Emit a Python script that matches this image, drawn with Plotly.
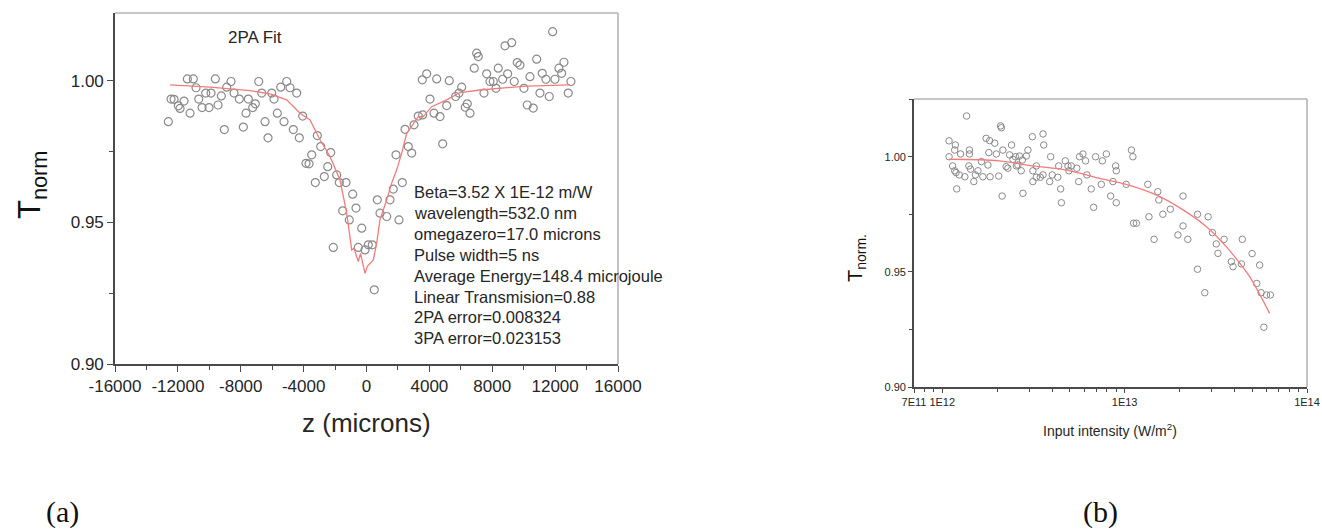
import plotly.graph_objects as go

# ---------------- panel (a): Z-scan ----------------
z_a = [-12606, -12434, -12243, -11970, -11861, -11607, -11397, -11225, -11016, -10844,
       -10672, -10462, -10227, -10017, -9890, -9616, -9445, -9235, -9044, -8891,
       -8618, -8427, -8090, -7836, -7664, -7518, -7238, -7072, -6856, -6665,
       -6455, -6265, -6029, -5883, -5673, -5457, -5247, -5075, -4865, -4656,
       -4439, -4274, -4058, -3848, -3657, -3485, -3256, -3129, -2913, -2684,
       -2468, -2277, -1895, -1730, -1304, -878, -668, -1514, -1094, -305,
       -2112, -522, -95, 114, 369, 496, 687, 859, 1285, 1495,
       1704, 2067, 2277, 1876, 2874, 2658, 2449, 3021, 3294, 3574,
       4039, 3829, 3549, 4465, 4293, 4675, 4846, 5101, 5266, 5673,
       5883, 6055, 6284, 6411, 6583, 6856, 7009, 7110, 7473, 7645,
       7855, 8064, 8236, 8382, 8662, 8809, 9235, 8980, 9400, 9591,
       9763, 10017, 10227, 10399, 10608, 10825, 11035, 11181, 11416, 11626,
       11842, 11989, 12243, 12415, 12561, 12834, 13006]
t_a = [0.9856, 0.9936, 0.9935, 0.9912, 0.9903, 0.9929, 1.0007, 0.9886, 1.0007, 0.9976,
       0.9936, 0.9906, 0.9957, 0.9906, 0.9957, 1.0007, 0.9915, 0.9947, 0.9828, 0.9978,
       0.9998, 0.9957, 0.9936, 0.9837, 0.9886, 0.9936, 0.9906, 0.9919, 0.9998, 0.9957,
       0.9856, 0.9799, 0.9957, 0.9936, 0.9886, 0.9978, 0.9856, 0.9998, 0.9976, 0.9828,
       0.9957, 0.9799, 0.9876, 0.9709, 0.9707, 0.9739, 0.9641, 0.9807, 0.9768, 0.9662,
       0.9697, 0.9747, 0.9668, 0.9641, 0.9641, 0.9600, 0.9551, 0.9541, 0.9509, 0.9480,
       0.9412, 0.9412, 0.9403, 0.9421, 0.9421, 0.9262, 0.9580, 0.9533, 0.9521, 0.9580,
       0.9618, 0.9509, 0.9641, 0.9739, 0.9745, 0.9768, 0.9829, 0.9845, 0.9876, 0.9880,
       0.9936, 1.0025, 1.0004, 1.0007, 0.9886, 0.9874, 0.9778, 0.9913, 1.0001, 0.9945,
       0.9957, 0.9978, 0.9907, 0.9919, 0.9886, 1.0045, 1.0098, 1.0086, 0.9957, 1.0025,
       0.9998, 0.9998, 0.9974, 1.0045, 1.0006, 1.0124, 1.0135, 1.0025, 0.9998, 1.0065,
       1.0056, 0.9974, 0.9915, 1.0015, 0.9904, 1.0077, 0.9957, 1.0027, 1.0006, 0.9945,
       1.0174, 1.0006, 1.0045, 1.0027, 1.0066, 0.9957, 0.9998]

z_fit = [-12500, -9950, -7410, -6137, -5075, -4229, -3593, -2957, -2321, -1685,
         -1259, -941, -800, -521, -380, -95, 50, 433, 650, 859,
         1285, 1602, 1920, 2238, 2557, 3294, 3612, 4146, 5101, 5947,
         7219, 8491, 10189, 12943]
t_fit = [0.9986, 0.9978, 0.9966, 0.9954, 0.9933, 0.9886, 0.9862, 0.9792, 0.9733, 0.9650,
         0.9533, 0.9403, 0.9409, 0.9362, 0.9391, 0.9320, 0.9345, 0.9368, 0.9427, 0.9510,
         0.9580, 0.9639, 0.9686, 0.9745, 0.9815, 0.9874, 0.9874, 0.9909, 0.9933, 0.9959,
         0.9968, 0.9974, 0.9982, 0.9986]

x_ticks_a = [-16000, -12000, -8000, -4000, 0, 4000, 8000, 12000, 16000]
x_ticklabels_a = ["-16000", "-12000", "-8000", "-4000", "0", "4000", "8000", "12000", "16000"]
y_ticks_a = [0.90, 0.95, 1.00]
y_ticklabels = ["0.90", "0.95", "1.00"]

info_lines = ["Beta=3.52 X 1E-12 m/W", "wavelength=532.0 nm", "omegazero=17.0 microns",
              "Pulse width=5 ns", "Average Energy=148.4 microjoule",
              "Linear Transmision=0.88", "2PA error=0.008324", "3PA error=0.023153"]

# ---------------- panel (b): intensity ----------------
i_b = [1.09e12, 1.09e12, 1.18e12, 1.17e12, 1.14e12, 1.17e12, 1.19e12, 1.24e12, 1.26e12, 1.33e12,
       1.36e12, 1.20e12, 1.41e12, 1.41e12, 1.40e12, 1.43e12, 1.49e12, 1.52e12, 1.57e12, 1.64e12,
       1.67e12, 1.74e12, 1.78e12, 1.82e12, 1.80e12, 1.83e12, 1.94e12, 1.98e12, 2.04e12, 2.09e12,
       2.11e12, 2.15e12, 2.13e12, 2.24e12, 2.34e12, 2.40e12, 2.44e12, 2.55e12, 2.65e12, 2.75e12,
       2.71e12, 2.77e12, 2.89e12, 2.95e12, 3.12e12, 3.14e12, 3.14e12, 3.28e12, 2.29e12, 2.52e12,
       2.60e12, 3.28e12, 3.45e12, 3.57e12, 3.60e12, 3.57e12, 3.88e12, 3.93e12, 4.01e12, 4.30e12,
       4.35e12, 4.46e12, 4.50e12, 4.73e12, 4.89e12, 4.95e12, 5.10e12, 5.47e12, 5.60e12, 5.66e12,
       5.91e12, 6.11e12, 6.21e12, 6.56e12, 6.76e12, 6.93e12, 7.55e12, 7.45e12, 7.94e12, 8.38e12,
       8.63e12, 8.93e12, 9.00e12, 9.00e12, 1.02e13, 1.09e13, 1.11e13, 1.12e13, 1.16e13, 1.34e13,
       1.36e13, 1.45e13, 1.52e13, 1.54e13, 1.62e13, 1.78e13, 1.96e13, 2.09e13, 2.09e13, 2.22e13,
       2.51e13, 2.51e13, 2.75e13, 2.87e13, 3.03e13, 3.18e13, 3.25e13, 3.51e13, 3.85e13, 3.93e13,
       4.37e13, 4.42e13, 5.0e13, 5.3e13, 5.6e13, 5.8e13, 6.0e13, 6.3e13, 5.5e13]
t_b = [1.0070, 1.0001, 1.0052, 1.0030, 0.9961, 0.9940, 0.9932, 0.9922, 1.0013, 0.9914,
       1.0178, 0.9861, 1.0030, 1.0013, 0.9961, 0.9947, 0.9893, 0.9922, 0.9940, 0.9980,
       0.9914, 1.0081, 0.9965, 1.0071, 1.0019, 0.9914, 1.0060, 1.0013, 0.9917, 1.0135,
       1.0127, 1.0030, 0.9830, 0.9958, 1.0009, 1.0052, 0.9990, 0.9961, 1.0004, 0.9987,
       0.9940, 0.9842, 1.0004, 1.0030, 1.0088, 0.9940, 0.9893, 0.9912, 0.9951, 1.0001,
       0.9965, 0.9961, 0.9912, 1.0100, 1.0052, 0.9922, 0.9893, 1.0001, 0.9922, 0.9912,
       0.9961, 0.9861, 0.9801, 0.9983, 0.9961, 0.9940, 0.9961, 0.9951, 0.9893, 1.0001,
       1.0013, 0.9983, 0.9922, 0.9861, 0.9781, 1.0001, 0.9983, 0.9881, 1.0013, 0.9830,
       0.9893, 0.9961, 0.9940, 0.9801, 0.9881, 1.0030, 1.0001, 0.9712, 0.9712, 0.9881,
       0.9740, 0.9642, 0.9849, 0.9813, 0.9751, 0.9773, 0.9661, 0.9830, 0.9700, 0.9642,
       0.9751, 0.9512, 0.9410, 0.9740, 0.9671, 0.9622, 0.9581, 0.9642, 0.9545, 0.9523,
       0.9535, 0.9642, 0.9580, 0.9450, 0.9410, 0.9260, 0.9400, 0.9400, 0.9530]

i_fit = [1.09e12, 2.06e12, 3.14e12, 4.79e12, 7.29e12, 1.02e13, 1.49e13, 2.09e13, 2.81e13,
         3.61e13, 4.28e13, 4.85e13, 6.24e13]
t_fit_b = [0.9990, 0.9983, 0.9961, 0.9943, 0.9907, 0.9881, 0.9835, 0.9770, 0.9697,
           0.9610, 0.9538, 0.9480, 0.9320]

x_ticks_b = [7e11, 1e12, 1e13, 1e14]
x_ticklabels_b = ["7E11", "1E12", "1E13", "1E14"]
x_minor_b = [8e11, 9e11, 2e12, 3e12, 4e12, 5e12, 6e12, 7e12, 8e12, 9e12,
             2e13, 3e13, 4e13, 5e13, 6e13, 7e13, 8e13, 9e13]
y_ticks_b = [0.90, 0.95, 1.00]

W, H = 1322, 532
GRAY_PT = "#8a8a8a"
FIT = "#f27c7c"
AX = "#4a4a4a"
TXT = "#262626"

fig = go.Figure()
fig.add_trace(go.Scatter(x=z_a, y=t_a, mode="markers", xaxis="x", yaxis="y",
                         marker=dict(symbol="circle-open", size=8, color=GRAY_PT, line=dict(width=1.2)),
                         showlegend=False))
fig.add_trace(go.Scatter(x=z_fit, y=t_fit, mode="lines", xaxis="x", yaxis="y",
                         line=dict(color=FIT, width=1.3), showlegend=False))
fig.add_trace(go.Scatter(x=i_b, y=t_b, mode="markers", xaxis="x2", yaxis="y2",
                         marker=dict(symbol="circle-open", size=6.5, color=GRAY_PT, line=dict(width=1)),
                         showlegend=False))
fig.add_trace(go.Scatter(x=i_fit, y=t_fit_b, mode="lines", xaxis="x2", yaxis="y2",
                         line=dict(color=FIT, width=1.3, shape="spline"), showlegend=False))


def px_x(p):
    return p / W


def px_y(p):
    return 1 - p / H


ax_common = dict(showgrid=False, zeroline=False, showline=True, linecolor=AX, linewidth=1.6,
                 ticks="outside", tickcolor=AX, tickwidth=1.2, automargin=False)

fig.update_layout(
    width=W, height=H, margin=dict(l=0, r=0, t=0, b=0),
    paper_bgcolor="white", plot_bgcolor="white",
    font=dict(family="Liberation Sans, Arial", color=TXT),
    xaxis=dict(domain=[px_x(115), px_x(618)], anchor="y", range=[-16000, 16000],
               tickvals=x_ticks_a, ticktext=x_ticklabels_a, ticklen=6,
               tickfont=dict(size=17, color=TXT),
               minor=dict(dtick=2000, ticks="outside", ticklen=4, tickcolor=AX), **ax_common),
    yaxis=dict(domain=[px_y(364), px_y(13)], anchor="x", range=[0.90, 1.024],
               tickvals=y_ticks_a, ticktext=y_ticklabels, ticklen=6,
               tickfont=dict(size=17, color=TXT),
               minor=dict(dtick=0.025, tick0=0.9, ticks="outside", ticklen=4, tickcolor=AX), **ax_common),
    xaxis2=dict(domain=[px_x(914), px_x(1307)], anchor="y2", type="log",
                range=[11.8451, 14.0], tickvals=x_ticks_b, ticktext=x_ticklabels_b, ticklen=4,
                tickfont=dict(size=11, color=TXT),
                minor=dict(tickmode="array", tickvals=x_minor_b, ticks="outside", ticklen=3, tickcolor=AX),
                **ax_common),
    yaxis2=dict(domain=[px_y(387), px_y(99)], anchor="x2", range=[0.90, 1.0252],
                tickvals=y_ticks_b, ticktext=y_ticklabels, ticklen=4,
                tickfont=dict(size=11, color=TXT),
                minor=dict(dtick=0.025, tick0=0.9, ticks="outside", ticklen=3, tickcolor=AX), **ax_common),
)

# light gray top/right frame lines
for xr, yr in (("x domain", "y domain"), ("x2 domain", "y2 domain")):
    fig.add_shape(type="line", xref=xr, yref=yr, x0=0, x1=1, y0=1, y1=1,
                  line=dict(color="#b4b4b4", width=1.6))
    fig.add_shape(type="line", xref=xr, yref=yr, x0=1, x1=1, y0=0, y1=1,
                  line=dict(color="#b4b4b4", width=1.6))


def label(text, x, y, size, color=TXT, family=None, angle=0, xanchor="center"):
    f = dict(size=size, color=color)
    if family:
        f["family"] = family
    return dict(text=text, x=px_x(x), y=px_y(y), xref="paper", yref="paper",
                xanchor=xanchor, yanchor="middle", textangle=angle,
                showarrow=False, font=f)


ann = [label("2PA Fit", 255, 37, 17)]
for k, line in enumerate(info_lines):
    ann.append(label(line, 412, 192 + 20.9 * k, 16.5, xanchor="left"))
ann.append(label("T<sub>norm</sub>", 32, 185, 31, color="#111", angle=-90))
ann.append(label("z (microns)", 366, 423, 26))
ann.append(label("T<sub>norm.</sub>", 856, 258, 20, color="#111", angle=-90))
ann.append(label("Input intensity (W/m<sup>2</sup>)", 1110, 430, 14))
serif = "Liberation Serif, Times New Roman"
ann.append(label("(a)", 62, 512, 30, color="#111", family=serif))
ann.append(label("(b)", 1100, 512, 30, color="#111", family=serif))
fig.update_layout(annotations=ann)

fig.write_html("out.html")
